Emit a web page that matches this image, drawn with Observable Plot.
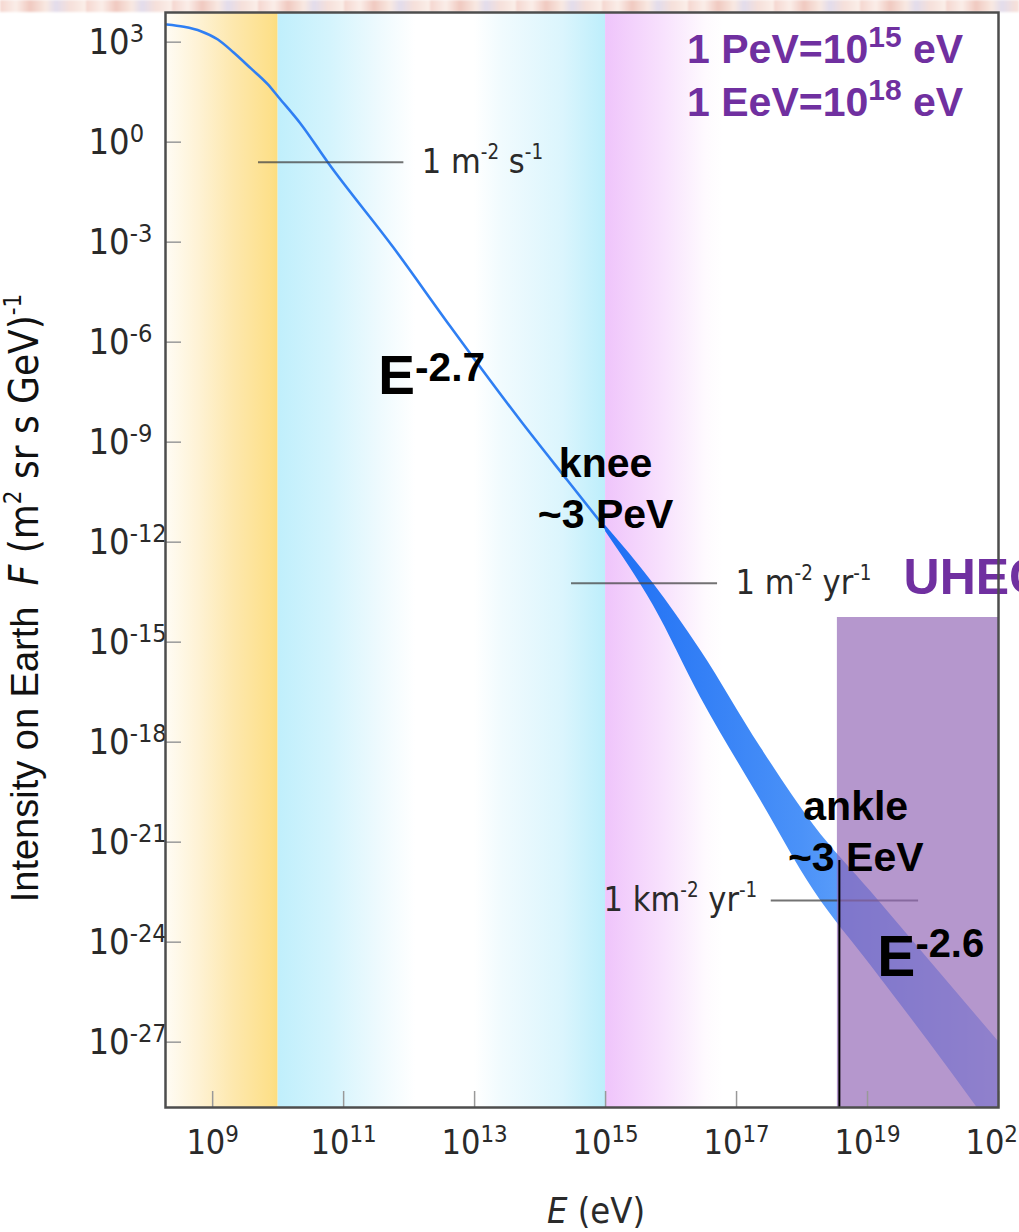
<!DOCTYPE html>
<html>
<head>
<meta charset="utf-8">
<script src="https://cdn.jsdelivr.net/npm/d3@7"></script>
<script src="https://cdn.jsdelivr.net/npm/@observablehq/plot@0.6"></script>
<style>
  html, body { margin: 0; padding: 0; background: #fff; overflow: hidden; }
  #wrap { position: relative; width: 1019px; height: 1232px; }
  #strip {
    position: absolute; left: 0; top: 0; width: 1019px; height: 12px;
    background: repeating-linear-gradient(90deg, #f5d6cf 0px, #fbeee9 16px, #f0c9c0 30px, #f9e9e2 46px, #e2dcec 56px, #f6e0da 70px, #fbf0ea 86px);
    filter: blur(1.2px);
  }
  #chart { position: absolute; left: 0; top: 0; }
</style>
</head>
<body>
<div id="wrap"><div id="strip"></div><div id="chart"></div></div>
<script>
// ---- axes (exponents of ten) ----
const xTickExp = [9, 11, 13, 15, 17, 19, 21];
const yTickExp = [3, 0, -3, -6, -9, -12, -15, -18, -21, -24, -27];
const xDomainExp = [8.28, 21];
const yDomainExp = [-28.96, 3.89];

// ---- all-particle spectrum: narrow low-energy curve, log10 E (eV) vs log10 F ----
const lineLogE = [8.30, 8.56, 8.82, 9.08, 9.32, 9.58, 9.84, 10.01, 10.34, 10.76, 11.76, 12.63, 13.70, 14.42, 15.0];
const lineLogF = [3.53, 3.46, 3.33, 3.08, 2.69, 2.22, 1.74, 1.34, 0.56, -0.61, -3.16, -5.53, -8.35, -10.15, -11.59];

// ---- spectrum above the knee: widening uncertainty band ----
const bandLogE = [15.0, 15.73, 16.45, 17.37, 18.18, 19.05, 19.92, 21.0];
const bandHiF = [-11.50, -13.24, -15.24, -18.16, -20.49, -22.48, -24.49, -26.98];
const bandLoF = [-11.68, -13.90, -16.65, -19.75, -22.45, -24.70, -26.95, -29.85];

// ---- shaded energy regions ----
const regionFrom = [8.28, 10, 15];
const regionTo = [10, 15, 16.8];
const regionFill = ["gYellow", "gCyan", "gPink"];

// ---- integral-flux reference levels ----
const refLabel = ["1 m^{-2} s^{-1}", "1 m^{-2} yr^{-1}", "1 km^{-2} yr^{-1}"];
const refLogF = [-0.6, -13.23, -22.75];
const refFromE = [9.70, 14.48, 17.53];
const refToE = [11.92, 16.71, 19.78];

// ---- ultra-high-energy region and ankle marker ----
const uhecrFromLogE = 18.54;
const uhecrTopLogF = -14.26;
const ankleLogE = 18.57;
const ankleTopLogF = -21.55;

// ---- annotations ----
const slopeText = ["E^{-2.7}", "E^{-2.6}"];
const slopeLogE = [11.53, 19.15];
const slopeLogF = [-7.54, -25.0];
const slopeSize = [55, 57];
const featureText = ["knee\n~3 PeV", "ankle\n~3 EeV"];
const featureLogE = [15.0, 18.82];
const featureLogF = [-11.56, -21.85];
const unitText = ["1 PeV=10^{15} eV", "1 EeV=10^{18} eV"];
const unitLogF = [2.39, 0.80];
const unitLogE = 20.46;
const uhecrText = "UHECR";
const uhecrLabelLogE = 19.55;
const uhecrLabelLogF = -13.54;

const P = v => Math.pow(10, v);
const idx = a => a.map((_, i) => i);
const gill = "'Liberation Sans Narrow', 'DejaVu Sans Condensed', Lato, sans-serif";
const arial = "'Liberation Sans', Arial, Helvetica, sans-serif";
const frameW = 1019 - 165 - 21;
const frameH = 1232 - 12 - 125;

const plot = Plot.plot({
  width: 1019,
  height: 1232,
  marginLeft: 165,
  marginRight: 21,
  marginTop: 12,
  marginBottom: 125,
  style: { background: "transparent", fontFamily: gill, color: "#2a2a2a" },
  x: { type: "log", domain: xDomainExp.map(P), label: null },
  y: { type: "log", domain: yDomainExp.map(P), label: null },
  marks: [
    // background regions
    ...idx(regionFrom).map(i =>
      Plot.rect([i], { x1: () => P(regionFrom[i]), x2: () => P(regionTo[i]), fill: `url(#${regionFill[i]})` })
    ),
    // spectrum
    Plot.line(idx(lineLogE), {
      x: i => P(lineLogE[i]), y: i => P(lineLogF[i]),
      stroke: "#2f7ff3", strokeWidth: 2.6, curve: "monotone-x"
    }),
    Plot.areaY(idx(bandLogE), {
      x: i => P(bandLogE[i]), y1: i => P(bandLoF[i]), y2: i => P(bandHiF[i]),
      fill: "url(#gBand)", curve: "monotone-x", clip: true
    }),
    // reference flux levels
    Plot.ruleY(idx(refLogF), {
      y: i => P(refLogF[i]), x1: i => P(refFromE[i]), x2: i => P(refToE[i]),
      stroke: "#444", strokeOpacity: 0.75, strokeWidth: 2
    }),
    // UHECR region
    Plot.rect([0], {
      x1: () => P(uhecrFromLogE), x2: () => P(xDomainExp[1]),
      y1: () => P(yDomainExp[0]), y2: () => P(uhecrTopLogF),
      fill: "#9164b4", fillOpacity: 0.67
    }),
    Plot.ruleX([0], {
      x: () => P(ankleLogE), y1: () => P(ankleTopLogF), y2: () => P(yDomainExp[0]),
      stroke: "#000", strokeWidth: 2
    }),
    // reference labels
    Plot.text(idx(refLabel), {
      filter: i => i < 2,
      x: i => P(refToE[i]), y: i => P(refLogF[i]), text: i => refLabel[i],
      textAnchor: "start", lineAnchor: "middle", dx: 18, fontSize: 34, fontFamily: gill, fill: "#2a2a2a"
    }),
    Plot.text(idx(refLabel), {
      filter: i => i === 2,
      x: i => P(refFromE[i]), y: i => P(refLogF[i]), text: i => refLabel[i],
      textAnchor: "end", lineAnchor: "middle", dx: -14, fontSize: 34, fontFamily: gill, fill: "#2a2a2a"
    }),
    // spectral index labels
    ...idx(slopeText).map(i =>
      Plot.text([i], {
        x: () => P(slopeLogE[i]), y: () => P(slopeLogF[i]), text: () => slopeText[i],
        textAnchor: "start", lineAnchor: "bottom", fontSize: slopeSize[i],
        fontFamily: arial, fontWeight: "bold", fill: "#000"
      })
    ),
    // knee and ankle
    Plot.text(idx(featureText), {
      x: i => P(featureLogE[i]), y: i => P(featureLogF[i]), text: i => featureText[i],
      textAnchor: "middle", lineAnchor: "bottom", lineHeight: 1.22,
      fontSize: 41, fontFamily: arial, fontWeight: "bold", fill: "#000"
    }),
    // unit reminders
    Plot.text(idx(unitText), {
      x: () => P(unitLogE), y: i => P(unitLogF[i]), text: i => unitText[i],
      textAnchor: "end", lineAnchor: "bottom",
      fontSize: 41, fontFamily: arial, fontWeight: "bold", fill: "#7030a0"
    }),
    Plot.text([uhecrText], {
      x: () => P(uhecrLabelLogE), y: () => P(uhecrLabelLogF), text: d => d,
      textAnchor: "start", lineAnchor: "bottom",
      fontSize: 50, fontFamily: arial, fontWeight: "bold", fill: "#7030a0"
    }),
    // axis titles
    Plot.text(["Intensity on Earth  F (m^{2} sr s GeV)^{-1}"], {
      frameAnchor: "left", text: d => d, rotate: -90, dx: -140, dy: 38,
      textAnchor: "middle", lineAnchor: "middle", fontSize: 38, fontFamily: arial, fill: "#111"
    }),
    Plot.text(["E (eV)"], {
      frameAnchor: "bottom", text: d => d, dx: 14, dy: 115,
      textAnchor: "middle", lineAnchor: "bottom", fontSize: 36, fontFamily: gill, fill: "#2a2a2a"
    }),
    // inner ticks
    Plot.tickY(yTickExp, { y: d => P(d), stroke: "#999", strokeWidth: 1.5, insetRight: frameW - 16 }),
    Plot.tickX(xTickExp, { x: d => P(d), stroke: "#999", strokeWidth: 1.5, insetTop: frameH - 16 }),
    // axes
    Plot.axisY(yTickExp.map(P), {
      anchor: "left", tickSize: 0, tickPadding: 77, textAnchor: "start",
      tickFormat: d => `10^{${Math.round(Math.log10(d))}}`, fontSize: 36, fontFamily: gill
    }),
    Plot.axisX(xTickExp.map(P), {
      anchor: "bottom", tickSize: 0, tickPadding: 22,
      tickFormat: d => `10^{${Math.round(Math.log10(d))}}`, fontSize: 34, fontFamily: gill
    }),
    Plot.frame({ stroke: "#4d4d4d", strokeWidth: 2.5 })
  ]
});

document.getElementById("chart").append(plot);

// gradient fills
const svg = d3.select(plot);
const defs = svg.insert("defs", ":first-child");
function gradient(id, stops) {
  const g = defs.append("linearGradient").attr("id", id)
    .attr("x1", 0).attr("x2", 1).attr("y1", 0).attr("y2", 0);
  stops.forEach(([o, c]) => g.append("stop").attr("offset", o).attr("stop-color", c));
}
gradient("gYellow", [[0, "#fffcf5"], [0.3, "#fef2d4"], [0.6, "#fde8ae"], [0.93, "#fde08b"], [1, "#fcdd7e"]]);
gradient("gCyan", [[0, "#c0effc"], [0.16, "#d4f4fd"], [0.31, "#eefafe"], [0.42, "#ffffff"], [0.6, "#ffffff"],
  [0.68, "#f1fbfe"], [0.87, "#dbf5fd"], [1, "#bdeefb"]]);
gradient("gPink", [[0, "#efc4fb"], [0.5, "#f8e2fd"], [0.85, "#fefafe"], [1, "#ffffff"]]);
gradient("gBand", [[0, "#1d6ef4"], [0.5, "#4b92f8"], [0.62, "#5c9efa"], [1, "#8fbafb"]]);

// superscripts written as ^{...}
const svgNS = "http://www.w3.org/2000/svg";
function supParams(s) {
  if (s.startsWith("E^{-2.7")) return [0.74, 0.22];
  if (s.startsWith("E^{-2.6")) return [0.7, 0.32];
  if (s.startsWith("10^")) return [0.7, 0.33];
  if (s.includes("eV=")) return [0.73, 0.37];
  return [0.6, 0.42];
}
function supify(el) {
  const s = el.textContent;
  if (!s.includes("^{")) return;
  const fs = parseFloat(getComputedStyle(el).fontSize);
  const [ratio, rise] = supParams(s);
  const parts = s.split(/\^\{([^}]*)\}/);
  el.textContent = "";
  let raised = false;
  parts.forEach((p, i) => {
    if (p === "") return;
    const t = document.createElementNS(svgNS, "tspan");
    t.textContent = p;
    if (i % 2 === 1) {
      t.setAttribute("font-size", fs * ratio);
      t.setAttribute("dy", -fs * rise);
      raised = true;
    } else if (raised) {
      t.setAttribute("dy", fs * rise);
      raised = false;
    }
    el.appendChild(t);
  });
}

// y-axis title with mixed styles
svg.selectAll("text").each(function () {
  const s = this.textContent;
  if (s.startsWith("Intensity")) {
    const fs = 40;
    this.textContent = "";
    const pieces = [
      ["Intensity on Earth  ", { "font-family": arial }],
      ["F", { "font-family": gill, "font-style": "italic", "font-size": fs }],
      [" (m", { "font-family": gill, "font-size": fs }],
      ["2", { "font-family": gill, "font-size": fs * 0.6, dy: -fs * 0.42 }],
      [" sr s GeV)", { "font-family": gill, "font-size": fs, dy: fs * 0.42 }],
      ["-1", { "font-family": gill, "font-size": fs * 0.6, dy: -fs * 0.42 }]
    ];
    for (const [t, attrs] of pieces) {
      const ts = document.createElementNS(svgNS, "tspan");
      ts.textContent = t;
      for (const k in attrs) ts.setAttribute(k, attrs[k]);
      this.appendChild(ts);
    }
  } else if (s === "E (eV)") {
    this.textContent = "";
    const a = document.createElementNS(svgNS, "tspan");
    a.textContent = "E";
    a.setAttribute("font-style", "italic");
    const b = document.createElementNS(svgNS, "tspan");
    b.textContent = " (eV)";
    this.append(a, b);
  } else {
    supify(this);
  }
});
</script>
</body>
</html>
